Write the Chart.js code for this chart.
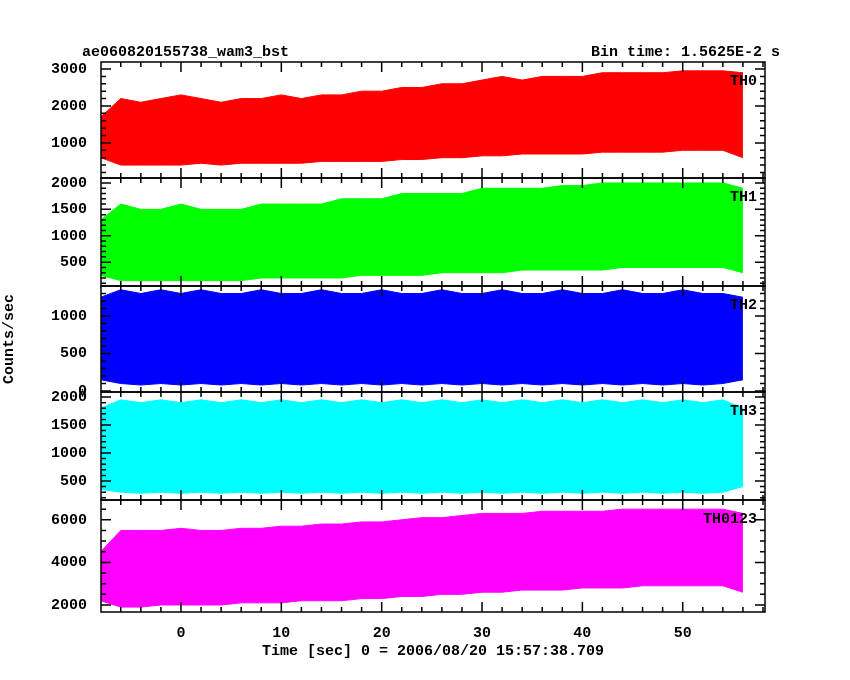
<!DOCTYPE html>
<html>
<head>
<meta charset="utf-8">
<script src="https://cdn.jsdelivr.net/npm/chart.js@4"></script>
<style>
  body { margin: 0; background: #fff; }
  #wrap { position: relative; width: 850px; height: 680px; }
  .hdr { position: absolute; top: 44px; font: bold 15px "Liberation Mono", monospace; color: #000; }
</style>
</head>
<body>
<div id="wrap">
  <canvas id="lc" width="850" height="680"></canvas>
  <div class="hdr" style="left:82px">ae060820155738_wam3_bst</div>
  <div class="hdr" style="right:70px">Bin time: 1.5625E-2 s</div>
</div>
<script>
// time bins (sec), 2 s steps; band = typical min / max of the 1/64 s light curve
const times = [-8,-6,-4,-2,0,2,4,6,8,10,12,14,16,18,20,22,24,26,28,30,32,34,36,38,40,42,44,46,48,50,52,54,56];

const th0Hi = [1700,2200,2100,2200,2300,2200,2100,2200,2200,2300,2200,2300,2300,2400,2400,2500,2500,2600,2600,2700,2800,2700,2800,2800,2800,2900,2900,2900,2900,2950,2950,2950,2900];
const th0Lo = [600,400,400,400,400,450,400,450,450,450,450,500,500,500,500,550,550,600,600,650,650,700,700,700,700,750,750,750,750,800,800,800,600];
const th1Hi = [1300,1600,1500,1500,1600,1500,1500,1500,1600,1600,1600,1600,1700,1700,1700,1800,1800,1800,1800,1900,1900,1900,1900,1950,1950,2000,2000,2000,2000,2000,2000,2000,1900];
const th1Lo = [250,150,150,150,150,150,150,150,200,200,200,200,200,250,250,250,250,300,300,300,300,350,350,350,350,350,400,400,400,400,400,400,300];
const th2Hi = [1250,1350,1300,1350,1300,1350,1300,1300,1350,1300,1300,1350,1300,1300,1350,1300,1300,1350,1300,1300,1350,1300,1300,1350,1300,1300,1350,1300,1300,1350,1300,1300,1250];
const th2Lo = [150,100,80,100,80,100,80,100,80,100,80,100,80,100,80,100,80,100,80,100,80,100,80,100,80,100,80,100,80,100,80,100,150];
const th3Hi = [1800,1950,1900,1950,1900,1950,1900,1950,1900,1950,1900,1950,1900,1950,1900,1950,1900,1950,1900,1950,1900,1950,1900,1950,1900,1950,1900,1950,1900,1950,1900,1950,1800];
const th3Lo = [350,300,280,300,280,300,280,300,280,300,280,300,280,300,280,300,280,300,280,300,280,300,280,300,280,300,280,300,280,300,280,300,400];
const sumHi = [4500,5500,5500,5500,5600,5500,5500,5600,5600,5700,5700,5800,5800,5900,5900,6000,6100,6100,6200,6300,6300,6300,6400,6400,6400,6400,6500,6500,6500,6500,6500,6500,6300];
const sumLo = [2200,1900,1900,2000,2000,2000,2000,2100,2100,2100,2200,2200,2200,2300,2300,2400,2400,2500,2500,2600,2600,2700,2700,2700,2800,2800,2800,2900,2900,2900,2900,2900,2600];

const xTicks = [0,10,20,30,40,50];
const panels = [
  { id: "y0", label: "TH0",    color: "#ff0000", hi: th0Hi, lo: th0Lo, min: 50,   max: 3190, ticks: [1000,2000,3000], minor: 200, w: 116 },
  { id: "y1", label: "TH1",    color: "#00ff00", hi: th1Hi, lo: th1Lo, min: 48,   max: 2094, ticks: [500,1000,1500,2000], minor: 100, w: 108 },
  { id: "y2", label: "TH2",    color: "#0000ff", hi: th2Hi, lo: th2Lo, min: -13,  max: 1400, ticks: [0,500,1000], minor: 100, w: 106 },
  { id: "y3", label: "TH3",    color: "#00ffff", hi: th3Hi, lo: th3Lo, min: 160,  max: 2090, ticks: [500,1000,1500,2000], minor: 100, w: 108 },
  { id: "y4", label: "TH0123", color: "#ff00ff", hi: sumHi, lo: sumLo, min: 1670, max: 6930, ticks: [2000,4000,6000], minor: 500, w: 112 }
];

const FONT = { family: "Liberation Mono", weight: "bold", size: 15 };
const plain = (v) => String(v);

const datasets = [];
const scales = {
  x: {
    type: "linear", min: -7.97, max: 58.2,
    grid: { display: false }, border: { display: false },
    ticks: { font: FONT, color: "#000", padding: 4, autoSkip: false, maxRotation: 0, callback: plain },
    afterBuildTicks: (s) => { s.ticks = xTicks.map(v => ({ value: v })); },
    afterFit: (s) => { s.height = 48; },
    title: { display: true, text: "Time [sec] 0 = 2006/08/20 15:57:38.709", font: FONT, color: "#000", padding: { top: 2, bottom: 0 } }
  }
};

panels.forEach((p, i) => {
  const pts = (arr) => arr.map((v, k) => ({ x: times[k], y: v }));
  datasets.push({ data: pts(p.hi), yAxisID: p.id, borderColor: p.color, backgroundColor: p.color, borderWidth: 1, pointRadius: 0, fill: "+1" });
  datasets.push({ data: pts(p.lo), yAxisID: p.id, borderColor: p.color, backgroundColor: p.color, borderWidth: 1, pointRadius: 0, fill: false });
  scales[p.id] = {
    type: "linear", position: "left", stack: "lc", stackWeight: p.w, offset: false,
    weight: 5 - i,
    min: p.min, max: p.max,
    grid: { display: false }, border: { display: false },
    ticks: { font: FONT, color: "#000", padding: 6, autoSkip: false, callback: plain },
    afterBuildTicks: (s) => { s.ticks = p.ticks.map(v => ({ value: v })); },
    afterFit: (s) => { s.width = 101; },
    title: { display: p.id === "y2", text: "Counts/sec", font: FONT, color: "#000", padding: 0 }
  };
});

// frames, inward ticks and panel labels
const framePlugin = {
  id: "frames",
  afterDraw(chart) {
    const ctx = chart.ctx, a = chart.chartArea, xs = chart.scales.x;
    ctx.save();
    ctx.strokeStyle = "#000";
    ctx.lineWidth = 1.5;
    panels.forEach((p) => {
      const s = chart.scales[p.id];
      const top = s.top, bot = s.bottom;
      ctx.strokeRect(a.left, top, a.right - a.left, bot - top);
      ctx.beginPath();
      for (let v = Math.ceil(s.min / p.minor) * p.minor; v <= s.max; v += p.minor) {
        const y = s.getPixelForValue(v);
        const len = p.ticks.includes(v) ? 10 : 5;
        ctx.moveTo(a.left, y); ctx.lineTo(a.left + len, y);
        ctx.moveTo(a.right, y); ctx.lineTo(a.right - len, y);
      }
      for (let v = -6; v <= 58; v += 2) {
        const x = xs.getPixelForValue(v);
        const len = v % 10 === 0 ? 10 : 5;
        ctx.moveTo(x, top); ctx.lineTo(x, top + len);
        ctx.moveTo(x, bot); ctx.lineTo(x, bot - len);
      }
      ctx.stroke();
      ctx.fillStyle = "#000";
      ctx.font = "bold 15px 'Liberation Mono'";
      ctx.textAlign = "right";
      ctx.textBaseline = "top";
      ctx.fillText(p.label, a.right - 8, top + 12);
    });
    ctx.restore();
  }
};

new Chart(document.getElementById("lc"), {
  type: "line",
  data: { datasets },
  options: {
    responsive: false, animation: false,
    layout: { padding: { left: 0, right: 85, top: 62, bottom: 20 } },
    plugins: { legend: { display: false }, tooltip: { enabled: false } },
    scales
  },
  plugins: [framePlugin]
});
</script>
</body>
</html>
